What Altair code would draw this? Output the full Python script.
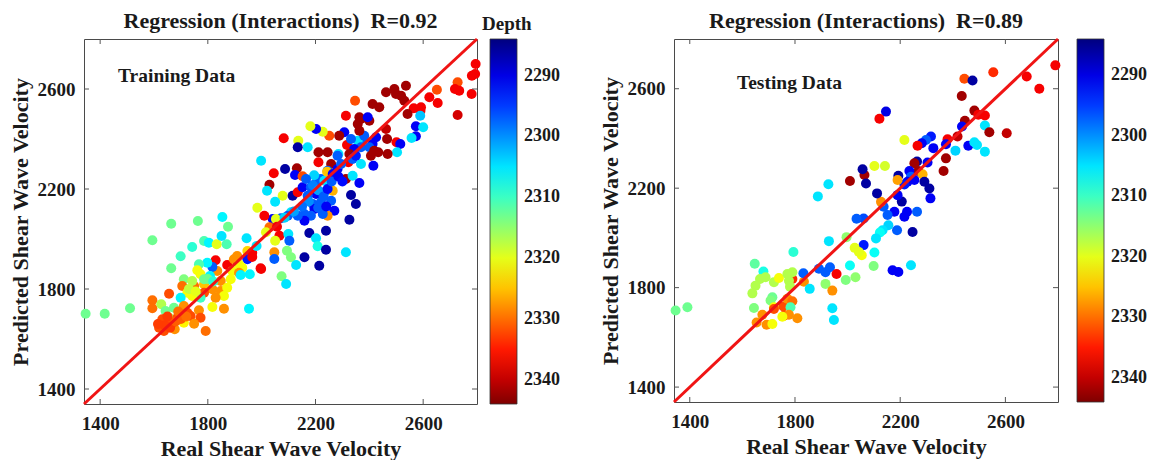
import altair as alt
import pandas as pd

# ---------------- data ----------------
train_real = [
    2795, 2781, 2793, 2780, 2728, 2718, 2734, 2728, 2651, 2623,
    2654, 2592, 2565, 2590, 2536, 2493, 2462, 2518, 2530, 2499,
    2542, 2589, 2573, 2600, 2573, 2557, 2501, 2515, 2503, 2468,
    2433, 2466, 2462, 2425, 2412, 2400, 2418, 2406, 2415, 2375,
    2357, 2369, 2381, 2363, 2357, 2369, 2400, 2363, 2437, 2412,
    2394, 2347, 2313, 2307, 2288, 2317, 2332, 2344, 2326, 2322,
    2338, 2369, 2350, 2285, 2282, 2258, 2245, 2211, 2211, 2251,
    2227, 2202, 2181, 2171, 2136, 2134, 2082, 1998, 2087, 2131,
    2124, 2152, 2045, 2029, 2020, 2078, 2050, 2115, 2134, 2152,
    2183, 2202, 2220, 2233, 2245, 2243, 2264, 2282, 2295, 2313,
    2338, 2363, 2332, 2350, 2326, 2313, 2264, 2233, 2202, 2190,
    2171, 2220, 2258, 2270, 2245, 2227, 2196, 2183, 2159, 2159,
    2134, 2109, 2097, 2072, 2041, 2053, 2010, 2029, 2057, 2016,
    2066, 2050, 2099, 2103, 2177, 2202, 2239, 2208, 2239, 2047,
    2047, 2094, 2109, 2159, 2128, 2214, 1998, 2074, 2091, 1346,
    1417, 1511, 1594, 1664, 1763, 1664, 1742, 1786, 1804, 1833,
    1870, 1854, 1875, 1851, 1944, 1947, 1965, 1981, 1984, 1947,
    1965, 1996, 1829, 1872, 1897, 1916, 1928, 1891, 1885, 1848,
    1835, 1916, 1922, 1956, 1817, 1798, 1767, 1761, 1711, 1705,
    1749, 1786, 1817, 1848, 1872, 1860, 1829, 1786, 1773, 1742,
    1724, 1699, 1656, 1594, 1594, 1627, 1643, 1674, 1656, 1631,
    1711, 1724, 1736, 1767, 1773, 1749, 1792, 1817, 1860, 1953,
    1687, 1711, 1677, 1619, 1637, 1656, 1668, 1625, 1643, 1699,
    1742, 1773, 1786, 1808, 1909, 1699, 2190, 2210, 2230, 2245,
    2175, 2210, 2240, 2150, 2120, 2260, 2285, 2300, 2195, 2165,
    2085, 1640, 1660, 1680, 1700, 1720, 1650, 1690, 1615, 1730,
    1755, 1800, 1820,
]
train_pred = [
    2700, 2653, 2660, 2580, 2627, 2600, 2593, 2496, 2597, 2567,
    2544, 2527, 2523, 2513, 2613, 2600, 2587, 2573, 2553, 2580,
    2500, 2493, 2451, 2447, 2411, 2404, 2387, 2380, 2347, 2340,
    2347, 2400, 2440, 2407, 2380, 2367, 2353, 2333, 2293, 2400,
    2393, 2367, 2413, 2433, 2460, 2480, 2473, 2487, 2527, 2540,
    2487, 2553, 2493, 2427, 2413, 2376, 2400, 2360, 2340, 2307,
    2320, 2300, 2333, 2340, 2333, 2300, 2347, 2347, 2307, 2413,
    2429, 2440, 2451, 2367, 2393, 2367, 2403, 2313, 2280, 2283,
    2256, 2251, 2263, 2217, 2193, 2173, 2149, 2173, 2187, 2207,
    2207, 2224, 2240, 2233, 2273, 2269, 2260, 2280, 2300, 2240,
    2253, 2224, 2176, 2140, 2077, 1947, 2193, 2187, 2180, 2140,
    2173, 2147, 2153, 2113, 2093, 2100, 2120, 2093, 2100, 2073,
    2093, 2107, 2093, 2083, 2080, 2080, 2093, 2047, 2049, 2027,
    2013, 1993, 2020, 1993, 2024, 2003, 2033, 1971, 1957, 1947,
    1920, 1953, 1927, 1927, 1896, 1893, 1880, 1851, 1820, 1701,
    1701, 1723, 1995, 2061, 2072, 1883, 1968, 1992, 1985, 1979,
    1979, 2088, 2049, 2012, 2003, 1952, 1945, 1972, 2125, 1919,
    1928, 1883, 1915, 1896, 1919, 1899, 1885, 1872, 1839, 1832,
    1872, 1865, 1856, 1859, 1888, 1905, 1899, 1875, 1839, 1812,
    1812, 1819, 1799, 1792, 1805, 1772, 1765, 1785, 1765, 1772,
    1785, 1765, 1781, 1755, 1723, 1739, 1712, 1725, 1685, 1679,
    1732, 1705, 1692, 1715, 1685, 1661, 1632, 1728, 1721, 1721,
    1685, 1665, 1639, 1645, 1632, 1659, 1665, 1665, 1645, 1699,
    1832, 1859, 1839, 1852, 1932, 1931, 2215, 2195, 2170, 2200,
    2150, 2125, 2130, 2130, 2110, 2230, 2250, 2230, 2255, 2240,
    2085, 1655, 1645, 1670, 1680, 1690, 1690, 1710, 1660, 1800,
    1790, 1840, 1830,
]
train_depth = [
    2337, 2337, 2337, 2337, 2332, 2337, 2337, 2339, 2332, 2337,
    2337, 2337, 2337, 2337, 2342, 2342, 2342, 2342, 2342, 2342,
    2342, 2303, 2291, 2305, 2291, 2305, 2337, 2291, 2305, 2342,
    2342, 2342, 2340, 2291, 2291, 2297, 2342, 2342, 2291, 2297,
    2305, 2297, 2297, 2342, 2342, 2342, 2342, 2342, 2342, 2342,
    2291, 2332, 2337, 2291, 2342, 2337, 2297, 2291, 2342, 2337,
    2297, 2305, 2293, 2305, 2297, 2342, 2342, 2342, 2337, 2332,
    2320, 2291, 2320, 2305, 2320, 2286, 2337, 2305, 2286, 2342,
    2291, 2332, 2337, 2342, 2305, 2320, 2305, 2286, 2337, 2291,
    2297, 2297, 2297, 2305, 2297, 2325, 2291, 2291, 2297, 2342,
    2305, 2291, 2286, 2286, 2286, 2305, 2326, 2297, 2291, 2297,
    2297, 2297, 2297, 2291, 2328, 2297, 2291, 2297, 2297, 2291,
    2297, 2305, 2297, 2297, 2291, 2320, 2337, 2330, 2337, 2320,
    2337, 2320, 2305, 2297, 2286, 2305, 2286, 2308, 2286, 2328,
    2297, 2314, 2314, 2286, 2305, 2286, 2337, 2314, 2305, 2313,
    2313, 2313, 2313, 2313, 2313, 2313, 2309, 2311, 2306, 2320,
    2311, 2306, 2313, 2305, 2305, 2324, 2337, 2305, 2320, 2293,
    2337, 2337, 2337, 2337, 2328, 2321, 2321, 2321, 2321, 2328,
    2328, 2328, 2306, 2306, 2297, 2306, 2311, 2321, 2314, 2330,
    2330, 2325, 2328, 2328, 2321, 2321, 2328, 2332, 2310, 2321,
    2321, 2306, 2332, 2330, 2330, 2317, 2313, 2313, 2317, 2332,
    2328, 2332, 2332, 2328, 2332, 2328, 2330, 2321, 2328, 2306,
    2332, 2322, 2328, 2332, 2332, 2332, 2332, 2332, 2332, 2332,
    2317, 2321, 2313, 2306, 2328, 2310, 2299, 2301, 2297, 2292,
    2300, 2297, 2291, 2298, 2301, 2297, 2291, 2292, 2304, 2297,
    2304, 2333, 2333, 2331, 2331, 2330, 2333, 2330, 2333, 2318,
    2320, 2313, 2309,
]

test_real = [
    2790, 2681, 2729, 2554, 2444, 2475, 2434, 2482, 2446, 2497,
    2522, 2522, 2539, 2605, 2435, 2418, 2380, 2374, 2410, 2459,
    2482, 2492, 2522, 2374, 2365, 2326, 2317, 2298, 2282, 2266,
    2216, 2304, 2264, 2254, 2269, 2285, 2235, 2241, 2254, 2228,
    2216, 2193, 2190, 2292, 2311, 2315, 2264, 2226, 2216, 2206,
    2190, 2178, 2152, 2137, 2127, 2112, 2155, 2188, 2247, 2133,
    2123, 2108, 2061, 2061, 2102, 2054, 2099, 2171, 2193, 2241,
    2102, 2142, 2064, 2070, 2057, 2146, 2121, 1346, 1391, 1647,
    1680, 1667, 1650, 1638, 1688, 1720, 1739, 1644, 1714, 1707,
    1720, 1720, 1756, 1771, 1790, 1783, 1758, 1777, 1809, 1752,
    1676, 1654, 1692, 1714, 1790, 1790, 1771, 1777, 1781, 1834,
    1832, 1856, 1794, 1891, 1916, 1933, 1958, 1916, 1942, 1942,
    1948, 1929, 1887, 1927, 1996, 1993, 2009, 2030, 2027, 2043,
    2034, 2009,
]
test_pred = [
    2694, 2649, 2600, 2666, 2640, 2633, 2571, 2512, 2471, 2495,
    2492, 2452, 2425, 2421, 2448, 2408, 2397, 2377, 2351, 2371,
    2385, 2374, 2347, 2320, 2269, 2361, 2408, 2394, 2381, 2371,
    2394, 2303, 2307, 2300, 2269, 2256, 2269, 2246, 2233, 2226,
    2215, 2250, 2233, 2226, 2199, 2159, 2105, 2105, 2085, 2146,
    2172, 2105, 2092, 2125, 2145, 2179, 2051, 2031, 2024, 2031,
    2022, 1998, 2078, 1971, 1941, 1930, 1887, 1870, 1863, 1890,
    2289, 2289, 2253, 2219, 2276, 2508, 2479, 1708, 1721, 1896,
    1865, 1835, 1808, 1777, 1842, 1822, 1839, 1718, 1761, 1748,
    1721, 1714, 1724, 1755, 1745, 1721, 1687, 1691, 1677, 1683,
    1691, 1660, 1651, 1654, 1835, 1862, 1855, 1828, 1804, 1824,
    1858, 1795, 1943, 1876, 1862, 1882, 1855, 1815, 1788, 1717,
    1670, 1987, 2167, 2216, 2003, 1831, 1889, 1842, 1960, 1943,
    2077, 2229,
]
test_depth = [
    2337, 2337, 2337, 2334, 2332, 2286, 2342, 2342, 2342, 2337,
    2337, 2305, 2342, 2340, 2291, 2340, 2337, 2291, 2304, 2291,
    2305, 2305, 2305, 2342, 2342, 2291, 2293, 2297, 2291, 2337,
    2320, 2291, 2286, 2342, 2342, 2326, 2291, 2297, 2291, 2291,
    2293, 2286, 2327, 2286, 2286, 2291, 2297, 2291, 2291, 2286,
    2291, 2291, 2297, 2297, 2328, 2286, 2304, 2297, 2286, 2305,
    2307, 2305, 2296, 2293, 2307, 2321, 2314, 2291, 2291, 2305,
    2320, 2319, 2342, 2286, 2286, 2290, 2337, 2313, 2313, 2312,
    2308, 2317, 2317, 2317, 2317, 2317, 2321, 2314, 2313, 2314,
    2321, 2332, 2332, 2328, 2330, 2311, 2332, 2328, 2328, 2321,
    2328, 2328, 2328, 2321, 2334, 2317, 2317, 2317, 2317, 2328,
    2297, 2305, 2309, 2297, 2297, 2297, 2337, 2315, 2328, 2305,
    2305, 2305, 2305, 2305, 2315, 2314, 2307, 2315, 2320, 2320,
    2297, 2342,
]

AXIS_RANGE = [1340, 2800]
AXIS_TICKS = [1400, 1800, 2200, 2600]
DEPTH_RANGE = [2284, 2344]
DEPTH_TICKS = [2290, 2300, 2310, 2320, 2330, 2340]
JET = ["#00007F", "#0000FF", "#007FFF", "#00FFFF", "#7FFF7F",
       "#FFFF00", "#FF7F00", "#FF0000", "#7F0000"]

TITLE_TRAIN = "Regression (Interactions)\u00a0\u00a0R=0.92"
TITLE_TEST = "Regression (Interactions)\u00a0\u00a0R=0.89"
LABEL_TRAIN = "Training Data"
LABEL_TEST = "Testing Data"
X_TITLE = "Real Shear Wave Velocity"
Y_TITLE = "Predicted Shear Wave Velocity"
CBAR_TITLE = "Depth"

FONT = "Liberation Serif"
INK = "#1a1a1a"

# plot-area origin of the left panel inside the page
ORIGIN = (83, 38)

# colour scale on the negated depth so that the vertical colour bar runs
# from small depths (blue, top) to large depths (red, bottom)
n = len(JET) - 1
stops = [DEPTH_RANGE[0] + (DEPTH_RANGE[1] - DEPTH_RANGE[0]) * i / n for i in range(n + 1)]
NEG_DOMAIN = [-s for s in reversed(stops)]
NEG_RANGE = list(reversed(JET))


def panel(real, pred, depth, title, label, W, H, legend_x, label_xy, depth_title):
    pts = pd.DataFrame({"real": real, "pred": pred, "depth": depth})
    ident = pd.DataFrame({"real": AXIS_RANGE, "pred": AXIS_RANGE})
    xt = pd.DataFrame({"real": AXIS_TICKS})
    yt = pd.DataFrame({"pred": AXIS_TICKS})

    common = dict(format="d", ticks=False, domain=False, grid=False,
                  labelFont=FONT, labelFontSize=19, labelFontWeight="bold",
                  labelColor=INK, titleFont=FONT, titleFontSize=22,
                  titleFontWeight="bold", titleColor=INK)
    xax = alt.Axis(title=X_TITLE, values=AXIS_TICKS, labelPadding=10,
                   titlePadding=5, **common)
    yax = alt.Axis(title=Y_TITLE, values=AXIS_TICKS, labelPadding=9,
                   titlePadding=5, **common)
    sc = alt.Scale(domain=AXIS_RANGE, nice=False, zero=False)
    X = alt.X("real:Q", scale=sc, axis=xax)
    Y = alt.Y("pred:Q", scale=sc, axis=yax)

    legend = alt.Legend(
        orient="none", legendX=legend_x, legendY=0, direction="vertical",
        gradientLength=H, gradientThickness=27, title=None,
        values=[-v for v in DEPTH_TICKS],
        labelExpr="format(-datum.value, 'd')",
        labelFont=FONT, labelFontSize=18, labelFontWeight="bold",
        labelColor=INK, labelOffset=7, labelOverlap=False, padding=0,
        gradientStrokeColor="#333333", gradientStrokeWidth=0.8,
    )
    color = alt.Color("negdepth:Q",
                      scale=alt.Scale(domain=NEG_DOMAIN, range=NEG_RANGE,
                                      interpolate="rgb"),
                      legend=legend)

    points = (alt.Chart(pts)
              .transform_calculate(negdepth="-datum.depth")
              .mark_circle(size=100, opacity=1)
              .encode(x=X, y=Y, color=color))
    line = alt.Chart(ident).mark_line(color="#f01414", strokeWidth=3).encode(x=X, y=Y)

    tick_col = "#555555"
    tb = alt.Chart(xt).mark_rule(color=tick_col).encode(x=X, y=alt.value(H), y2=alt.value(H - 5))
    tt = alt.Chart(xt).mark_rule(color=tick_col).encode(x=X, y=alt.value(0), y2=alt.value(5))
    tl = alt.Chart(yt).mark_rule(color=tick_col).encode(y=Y, x=alt.value(0), x2=alt.value(5))
    tr = alt.Chart(yt).mark_rule(color=tick_col).encode(y=Y, x=alt.value(W - 5), x2=alt.value(W))

    ttl = (alt.Chart(pd.DataFrame({"t": [title]}))
           .mark_text(font=FONT, fontSize=22, fontWeight="bold", color=INK,
                      align="center", baseline="alphabetic")
           .encode(text="t:N", x=alt.value(W / 2), y=alt.value(-11)))
    lab = (alt.Chart(pd.DataFrame({"t": [label]}))
           .mark_text(font=FONT, fontSize=19.5, fontWeight="bold", color=INK,
                      align="left", baseline="alphabetic")
           .encode(text="t:N", x=alt.value(label_xy[0]), y=alt.value(label_xy[1])))
    layers = [points, line, tb, tt, tl, tr, ttl, lab]
    if depth_title:
        dt = (alt.Chart(pd.DataFrame({"t": [CBAR_TITLE]}))
              .mark_text(font=FONT, fontSize=19, fontWeight="bold", color=INK,
                         align="left", baseline="alphabetic")
              .encode(text="t:N", x=alt.value(legend_x - 8), y=alt.value(-9)))
        # invisible anchor fixing the page's top-left corner
        anchor = (alt.Chart(pd.DataFrame({"t": [CBAR_TITLE]}))
                  .mark_rule(strokeWidth=0, opacity=0)
                  .encode(x=alt.value(-ORIGIN[0]), x2=alt.value(-ORIGIN[0] + 1),
                          y=alt.value(-ORIGIN[1]), y2=alt.value(-ORIGIN[1] + 1)))
        layers += [dt, anchor]
    return alt.layer(*layers).properties(width=W, height=H)


left = panel(train_real, train_pred, train_depth, TITLE_TRAIN, LABEL_TRAIN,
             393, 365, 406, (34, 43), True)
right = panel(test_real, test_pred, test_depth, TITLE_TEST, LABEL_TEST,
              384, 363, 403, (63, 50), False)

chart = (alt.hconcat(left, right, spacing=197, bounds="flush")
         .resolve_scale(color="independent")
         .properties(padding=0)
         .configure_view(stroke="#4a4a4a", strokeWidth=1))

chart.save("out.html", embed_options={"renderer": "svg", "actions": False})
